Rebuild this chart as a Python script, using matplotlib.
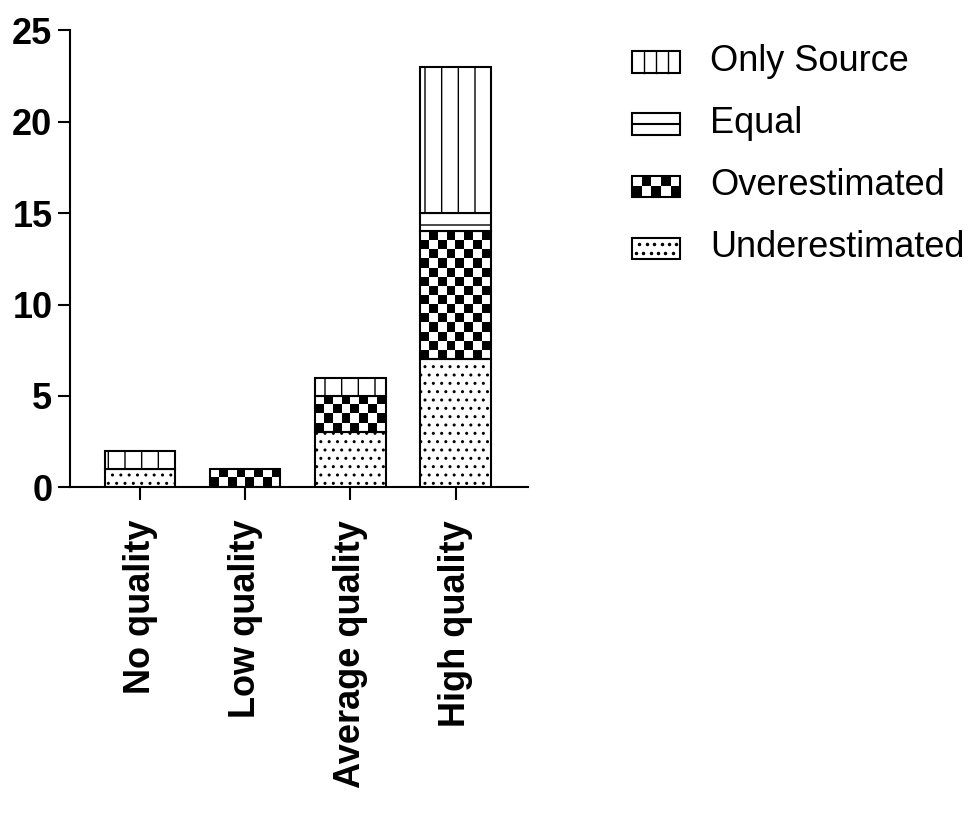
import numpy as np
import matplotlib
matplotlib.use('Agg')
import matplotlib.pyplot as plt
from matplotlib.patches import Rectangle, Patch
from matplotlib.lines import Line2D
from matplotlib.legend_handler import HandlerBase

plt.rcParams['font.family'] = ['Liberation Sans', 'DejaVu Sans']
plt.rcParams['hatch.linewidth'] = 1.0

# data
categories = ['No quality', 'Low quality', 'Average quality', 'High quality']
underestimated = [1, 0, 3, 7]
overestimated = [0, 1, 2, 7]
equal = [0, 0, 0, 1]
only_source = [1, 0, 1, 8]
legend_labels = ['Only Source', 'Equal', 'Overestimated', 'Underestimated']
yticks = [0, 5, 10, 15, 20, 25]

bar_w = 0.67
lw = 1.5

fig = plt.figure(figsize=(9.68, 8.19), dpi=100)
ax = fig.add_axes([0.0723, 0.405, 0.4732, 0.558])

x = np.arange(len(categories))
series = [underestimated, overestimated, equal, only_source]
hatches = ['..', None, '-', '|']

bottom = np.zeros(len(categories))
for s_idx, vals in enumerate(series):
    vals = np.array(vals, dtype=float)
    for i in range(len(categories)):
        if vals[i] <= 0:
            continue
        x0 = x[i] - bar_w / 2
        if s_idx == 1:
            # checkerboard fill: 8 cells across, 2 per unit upwards
            ny = int(round(vals[i] * 2))
            grid = (np.add.outer(np.arange(ny), np.arange(8)) % 2)
            grid = grid[::-1]
            ax.imshow(grid, cmap='gray', vmin=0, vmax=1, interpolation='nearest',
                      extent=[x0, x0 + bar_w, bottom[i], bottom[i] + vals[i]],
                      aspect='auto', zorder=2)
            ax.add_patch(Rectangle((x0, bottom[i]), bar_w, vals[i], facecolor='none',
                                   edgecolor='black', lw=lw, zorder=3))
        else:
            ax.bar(x[i], vals[i], bar_w, bottom=bottom[i], color='white',
                   edgecolor='black', hatch=hatches[s_idx], lw=lw, zorder=3)
    bottom += vals

ax.set_xlim(-0.667, 3.69)
ax.set_ylim(0, 25)
ax.set_yticks(yticks)
ax.set_xticks(x)
ax.set_xticklabels(categories, rotation=90, fontsize=26, fontweight='bold')
ax.set_yticklabels([str(t) for t in yticks], fontsize=26, fontweight='bold')
ax.tick_params(axis='y', length=8.6, width=lw, pad=4)
ax.tick_params(axis='x', length=9.4, width=lw, pad=14)
for sp in ['top', 'right']:
    ax.spines[sp].set_visible(False)
for sp in ['left', 'bottom']:
    ax.spines[sp].set_linewidth(lw)


class SwatchHandler(HandlerBase):
    def __init__(self, kind):
        super().__init__()
        self.kind = kind

    def create_artists(self, legend, orig, x0, y0, w, h, fontsize, trans):
        arts = []
        if self.kind == 'checker':
            nx, ny = 5, 2
            for i in range(nx):
                for j in range(ny):
                    fc = 'black' if (i + j) % 2 == 0 else 'white'
                    arts.append(Rectangle((x0 + i * w / nx, y0 + j * h / ny), w / nx, h / ny,
                                          facecolor=fc, edgecolor='none', transform=trans))
        elif self.kind == 'vlines':
            for k in range(1, 4):
                xx = x0 + k * w / 4
                arts.append(Line2D([xx, xx], [y0, y0 + h], color='black', lw=1.0, transform=trans))
        elif self.kind == 'hline':
            arts.append(Line2D([x0, x0 + w], [y0 + h / 2] * 2, color='black', lw=lw, transform=trans))
        elif self.kind == 'dots':
            for j, yy in enumerate([0.3, 0.72]):
                xs = x0 + w * (np.arange(6) + 0.5 + 0.5 * j) / 6.5
                arts.append(Line2D(xs, [y0 + yy * h] * len(xs), ls='none', marker='o',
                                   ms=1.5, color='black', transform=trans))
        arts.append(Rectangle((x0, y0), w, h, facecolor='none', edgecolor='black',
                              lw=lw, transform=trans))
        return arts


handles = [Patch(facecolor='white') for _ in legend_labels]
kinds = ['vlines', 'hline', 'checker', 'dots']

fig.legend(handles, legend_labels,
           handler_map={h: SwatchHandler(k) for h, k in zip(handles, kinds)},
           loc='upper left', bbox_to_anchor=(0.653, 0.946), frameon=False,
           fontsize=26, handlelength=1.33, handleheight=0.55, labelspacing=0.75,
           handletextpad=0.83, borderpad=0, borderaxespad=0)

fig.savefig('out.png', dpi=100)
